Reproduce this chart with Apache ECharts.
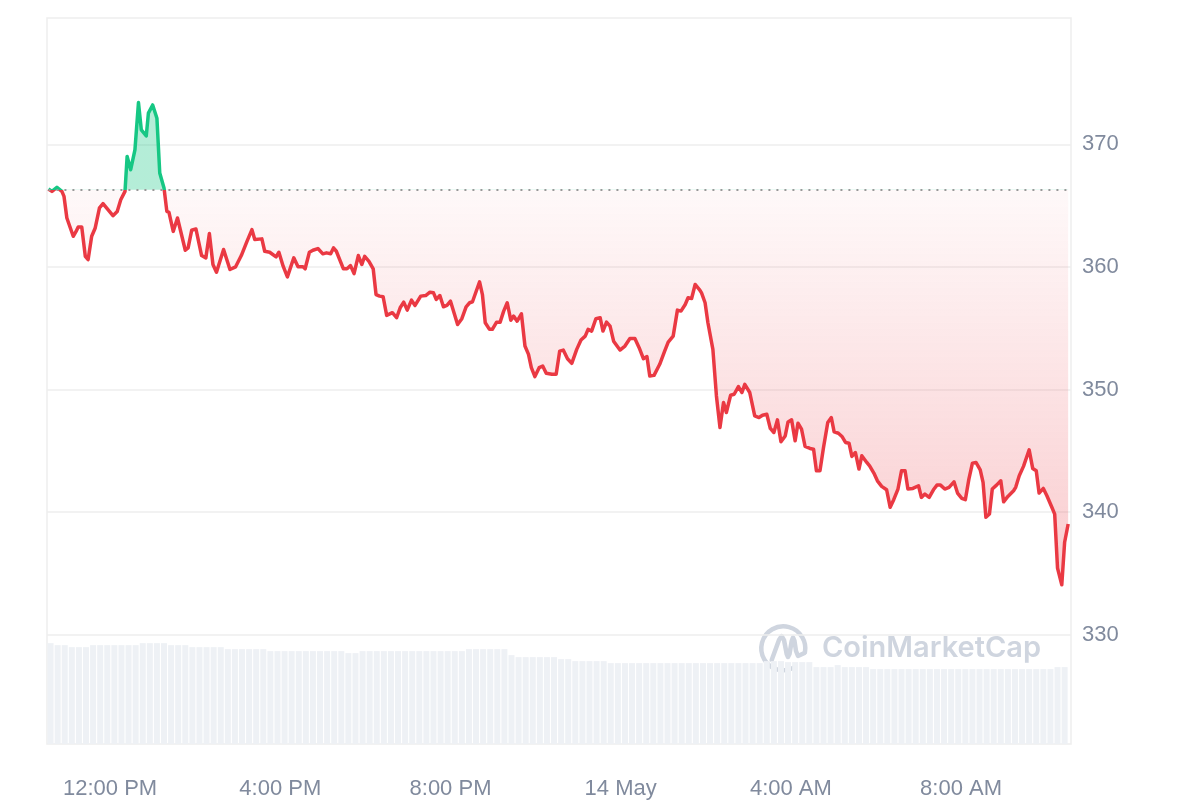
<!DOCTYPE html>
<html>
<head>
<meta charset="utf-8">
<script src="https://cdn.jsdelivr.net/npm/echarts@6/dist/echarts.min.js"></script>
<style>html,body{margin:0;padding:0;background:#fff}#chart{width:1200px;height:800px}</style>
</head>
<body>
<div id="chart"></div>
<script>
// time = minutes since 00:00 on 13 May (values > 1440 are on 14 May)
const times = [633,638,645,652,655,659,668,672,675,680,685,689,694,699,705,710,717,724,730,735,741,744,749,755,760,764,771,774,780,786,790,796,800,803,809,815,826,830,835,841,849,855,860,865,870,880,889,897,905,913,920,924,934,938,945,954,958,964,970,979,985,992,995,1001,1006,1013,1020,1025,1031,1035,1039,1049,1054,1059,1064,1070,1075,1079,1085,1091,1095,1100,1105,1110,1118,1124,1129,1134,1139,1145,1150,1158,1165,1171,1176,1180,1185,1190,1195,1200,1210,1216,1222,1227,1231,1241,1245,1249,1255,1259,1265,1270,1275,1280,1285,1289,1294,1300,1305,1310,1314,1319,1325,1330,1335,1343,1349,1354,1359,1365,1371,1378,1384,1390,1394,1399,1405,1411,1415,1420,1425,1430,1439,1446,1453,1460,1466,1472,1477,1481,1487,1495,1502,1507,1514,1520,1525,1531,1535,1540,1545,1551,1554,1559,1563,1570,1575,1580,1585,1589,1595,1600,1606,1611,1615,1622,1629,1635,1640,1646,1651,1656,1661,1666,1672,1676,1681,1686,1690,1695,1700,1707,1712,1716,1721,1726,1732,1737,1741,1747,1752,1757,1762,1766,1771,1776,1780,1787,1791,1797,1802,1808,1815,1820,1825,1831,1836,1841,1845,1852,1860,1864,1869,1875,1881,1886,1891,1897,1903,1910,1915,1921,1926,1931,1936,1941,1947,1951,1955,1960,1964,1970,1976,1980,1986,1994,1997,2002,2008,2016,2021,2026,2030,2036,2041,2048,2052,2056,2062,2066,2071];
const prices = [366.36,366.16,366.49,366.16,365.75,363.99,362.50,362.90,363.26,363.26,360.87,360.60,362.50,363.18,364.81,365.16,364.67,364.18,364.53,365.48,366.16,369.01,367.93,369.55,373.40,371.18,370.69,372.54,373.21,372.13,367.66,366.44,364.53,364.45,362.90,363.99,361.36,361.55,362.99,363.10,360.93,360.74,362.72,360.20,359.57,361.42,359.79,360.01,360.93,362.09,363.04,362.23,362.29,361.28,361.20,360.82,361.20,360.06,359.19,360.74,360.01,360.01,359.85,361.20,361.36,361.50,361.07,361.15,361.07,361.55,361.28,359.85,359.85,360.11,359.46,360.93,360.20,360.87,360.46,359.85,357.75,357.62,357.57,356.05,356.27,355.86,356.67,357.13,356.48,357.29,356.86,357.62,357.67,357.94,357.89,357.35,357.67,356.75,356.86,357.21,355.31,355.78,356.75,357.08,357.16,358.79,357.75,355.45,354.91,354.91,355.50,355.50,356.40,357.08,355.66,355.99,355.58,356.18,353.55,352.87,351.79,351.06,351.79,351.92,351.33,351.25,351.25,353.14,353.22,352.51,352.14,353.28,354.04,354.36,354.91,354.77,355.78,355.86,354.77,355.50,355.17,353.95,353.22,353.55,354.17,354.17,353.42,352.52,352.69,351.11,351.16,352.06,353.14,353.87,354.36,356.48,356.40,356.94,357.49,357.43,358.57,358.16,357.89,357.08,355.45,353.28,349.48,346.91,348.94,348.13,349.54,349.62,350.24,349.76,350.43,349.76,347.85,347.72,347.91,347.99,346.83,346.50,347.53,345.74,346.22,347.36,347.53,345.82,347.26,346.77,345.36,345.20,345.14,343.38,343.38,345.28,347.32,347.72,346.55,346.44,346.18,345.69,345.63,344.55,344.87,343.52,344.60,344.06,343.78,343.19,342.56,342.11,341.83,340.40,341.02,341.89,343.38,343.38,341.89,341.94,342.16,341.21,341.48,341.21,341.83,342.21,342.21,341.89,342.03,342.48,341.56,341.13,341.02,342.70,344.00,344.06,343.46,342.43,339.59,339.85,341.89,342.21,342.56,340.85,341.29,341.75,342.03,342.97,343.74,345.09,343.57,343.38,341.56,341.94,341.34,340.40,339.85,335.44,334.08,337.55,339.04];
const baseline = 366.3;

// 10-minute volume buckets (starting 10:36 on 13 May)
const volumeStart = 636;
const volumeStep = 10;
const volumes = [10.1,9.9,9.9,9.7,9.7,9.7,9.9,9.9,9.9,9.9,9.9,9.9,9.9,10.1,10.1,10.1,10.1,9.9,9.9,9.9,9.7,9.7,9.7,9.7,9.7,9.5,9.5,9.5,9.5,9.5,9.5,9.3,9.3,9.3,9.3,9.3,9.3,9.3,9.3,9.3,9.3,9.3,9.1,9.1,9.3,9.3,9.3,9.3,9.3,9.3,9.3,9.3,9.3,9.3,9.3,9.3,9.3,9.3,9.3,9.5,9.5,9.5,9.5,9.5,9.5,8.9,8.7,8.7,8.7,8.7,8.7,8.7,8.5,8.5,8.3,8.3,8.3,8.3,8.3,8.1,8.1,8.1,8.1,8.1,8.1,8.1,8.1,8.1,8.1,8.1,8.1,8.1,8.1,8.1,8.1,8.1,8.1,8.1,8.1,8.1,8.1,8.3,8.3,8.3,8.2,8.2,8.2,8.2,7.7,7.7,7.7,7.9,7.7,7.7,7.7,7.7,7.5,7.5,7.5,7.5,7.5,7.5,7.5,7.5,7.5,7.5,7.5,7.5,7.5,7.5,7.5,7.5,7.5,7.5,7.5,7.5,7.5,7.5,7.5,7.5,7.5,7.5,7.7,7.7];

const xTickValues = [720, 960, 1200, 1440, 1680, 1920];
const xTickLabels = ['12:00 PM', '4:00 PM', '8:00 PM', '14 May', '4:00 AM', '8:00 AM'];
const yTickValues = [330, 340, 350, 360, 370];

const green = '#16c784', red = '#ea3943';
const priceData = times.map((t, i) => [t, prices[i]]);
const volData = volumes.map((v, i) => [volumeStart + i * volumeStep, v]);
const pMax = Math.max(...prices), pMin = Math.min(...prices);

const chart = echarts.init(document.getElementById('chart'));
const labelFont = 'Liberation Sans, Arial, sans-serif';
const wm = '#cfd5df';
chart.setOption({
  animation: false,
  grid: { left: 47, right: 129, top: 18, bottom: 55, show: true, borderColor: '#eeeeee', borderWidth: 1.5 },
  xAxis: {
    type: 'value', min: 631, max: 2075,
    axisLine: { show: false }, axisTick: { show: false }, splitLine: { show: false },
    axisLabel: {
      customValues: xTickValues,
      formatter: v => xTickLabels[xTickValues.indexOf(v)],
      color: '#808a9d', fontSize: 22, margin: 34, fontFamily: labelFont
    }
  },
  yAxis: [
    {
      type: 'value', position: 'right', min: 321.1, max: 380.3,
      axisLine: { show: false },
      axisTick: { show: false, customValues: yTickValues },
      splitLine: { show: true, lineStyle: { color: '#eeeeee', width: 1.5 } },
      axisLabel: { customValues: yTickValues, color: '#808a9d', fontSize: 22, margin: 11, fontFamily: labelFont, padding: [4, 0, 0, 0] }
    },
    { type: 'value', min: 0, max: 72.7, show: false, splitLine: { show: false } }
  ],
  series: [
    {
      type: 'bar', xAxisIndex: 0, yAxisIndex: 1, data: volData, barWidth: 6,
      itemStyle: { color: '#eef1f5' }, silent: true, z: 1
    },
    {
      id: 'price', type: 'line', xAxisIndex: 0, yAxisIndex: 0, data: priceData, showSymbol: false, z: 3,
      lineStyle: { width: 3.5, color: red, join: 'round' },
      areaStyle: { origin: baseline, opacity: 1, color: 'rgba(234,57,67,0.08)' },
      markLine: {
        silent: true, symbol: ['none', 'none'], label: { show: false },
        lineStyle: { color: '#999999', type: [2, 6], width: 2 },
        data: [[{ coord: [times[0], baseline] }, { coord: [times[times.length - 1], baseline] }]]
      }
    }
  ],
  graphic: [
    {
      type: 'group', x: 760, y: 622, silent: true, z: 100,
      children: [
        { type: 'arc', shape: { cx: 23.3, cy: 26.3, r: 22, startAngle: Math.PI / 3, endAngle: Math.PI * 2 + Math.PI / 18, clockwise: true },
          style: { stroke: wm, lineWidth: 4.5, fill: null, lineCap: 'round' } },
        { type: 'polyline', shape: { points: [[11.7,38],[19,18],[21.7,14],[24,18],[26.7,32],[28,35],[29.5,32],[31.7,19],[33,15.5],[34.5,19],[36,29],[38,34],[44.5,31]] },
          style: { stroke: wm, lineWidth: 4.5, fill: null, lineCap: 'round', lineJoin: 'round' } }
      ]
    },
    {
      type: 'text', x: 822, y: 648, silent: true, z: 100,
      style: { text: 'CoinMarketCap', fill: wm, fontSize: 29, fontWeight: 600, fontFamily: 'Inter', verticalAlign: 'middle' }
    }
  ]
});

// colour the line and fill around the baseline using pixel positions from the axis scale
const yBase = chart.convertToPixel({ yAxisIndex: 0 }, baseline);
const yTopPx = chart.convertToPixel({ yAxisIndex: 0 }, pMax);
const yBotPx = chart.convertToPixel({ yAxisIndex: 0 }, pMin);
const fb = (yBase - yTopPx) / (yBotPx - yTopPx);
chart.setOption({
  series: [{
    id: 'price',
    lineStyle: {
      color: {
        type: 'linear', global: true, x: 0, y: yBase - 0.5, x2: 0, y2: yBase + 0.5,
        colorStops: [
          { offset: 0, color: green }, { offset: 0.5, color: green },
          { offset: 0.5, color: red }, { offset: 1, color: red }
        ]
      }
    },
    areaStyle: {
      color: {
        type: 'linear', global: true, x: 0, y: yTopPx, x2: 0, y2: yBotPx,
        colorStops: [
          { offset: 0, color: 'rgba(22,199,132,0.32)' },
          { offset: fb, color: 'rgba(22,199,132,0.32)' },
          { offset: fb, color: 'rgba(234,57,67,0.03)' },
          { offset: 1, color: 'rgba(234,57,67,0.26)' }
        ]
      }
    }
  }]
});
</script>
</body>
</html>
